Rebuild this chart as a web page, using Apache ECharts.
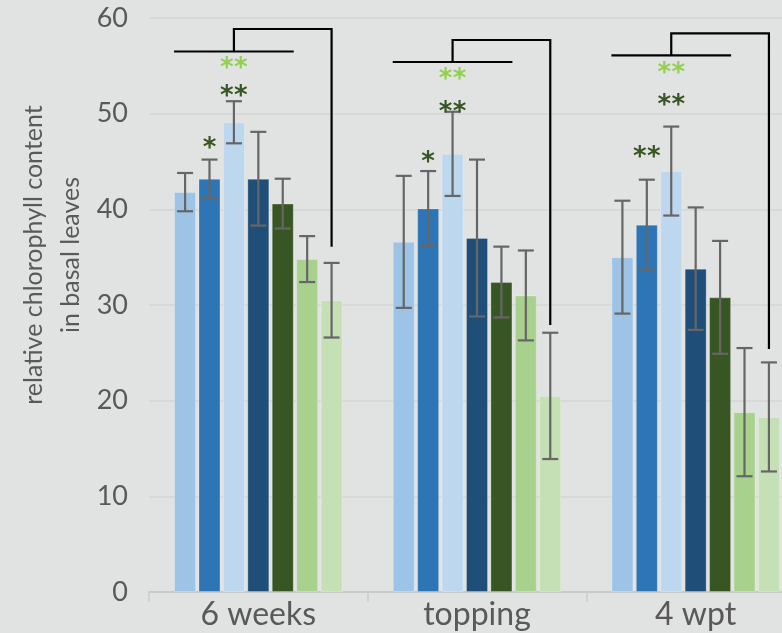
<!DOCTYPE html>
<html>
<head>
<meta charset="utf-8">
<script src="https://cdn.jsdelivr.net/npm/echarts@6/dist/echarts.min.js"></script>
<style>
html,body{margin:0;padding:0;background:#E1E2E2;overflow:hidden;}
#c{width:805px;height:633px;}
</style>
</head>
<body>
<div id="c"></div>
<script>
// ---- data ----
const categories = ['6 weeks', 'topping', '4 wpt'];
const seriesNames = ['line 1', 'line 2', 'line 3', 'line 4', 'line 5', 'line 6', 'line 7'];
const mean1 = [41.8, 36.6, 35.0];
const mean2 = [43.2, 40.1, 38.4];
const mean3 = [49.1, 45.8, 44.0];
const mean4 = [43.2, 37.0, 33.8];
const mean5 = [40.6, 32.4, 30.8];
const mean6 = [34.8, 31.0, 18.8];
const mean7 = [30.5, 20.5, 18.3];
const err1 = [2.0, 6.9, 5.9];
const err2 = [2.0, 3.9, 4.7];
const err3 = [2.2, 4.4, 4.65];
const err4 = [4.9, 8.2, 6.4];
const err5 = [2.6, 3.7, 5.9];
const err6 = [2.4, 4.7, 6.7];
const err7 = [3.9, 6.6, 5.7];
const yTicks = [0, 10, 20, 30, 40, 50, 60];
// significance marks: category index, bar index, value, text, kind
const starCat  = [0, 0, 0, 1, 1, 1, 2, 2, 2];
const starBar  = [1, 2, 2, 1, 2, 2, 1, 2, 2];
const starVal  = [47.0, 52.5, 55.4, 45.5, 50.8, 54.2, 46.1, 51.5, 54.9];
const starText = ['*', '**', '**', '*', '**', '**', '**', '**', '**'];
const starKind = ['dark', 'dark', 'light', 'dark', 'dark', 'light', 'dark', 'dark', 'light'];
// comparison brackets per category
const bracketLow = [56.5, 55.4, 56.1];
const bracketTop = [58.85, 57.7, 58.4];
const bracketEnd = [36.1, 27.9, 25.4];

const means = [mean1, mean2, mean3, mean4, mean5, mean6, mean7];
const errs = [err1, err2, err3, err4, err5, err6, err7];
const colors = ['#9DC3E6', '#2E75B6', '#BDD7EE', '#1F4E79', '#375623', '#A9D18E', '#C5E0B4'];
const starColors = { dark: '#375623', light: '#92D050' };

const BAR_W = 22;
const BAR_GAP = 0.11;
const PITCH = BAR_W * (1 + BAR_GAP);
const N = means.length;
function offsetOf(j) { return (j - (N - 1) / 2) * PITCH; }

const FONT = 'Lato';
const TXT = '#595959';

const barSeries = means.map((m, j) => ({
  name: seriesNames[j],
  type: 'bar',
  data: m,
  barWidth: BAR_W,
  barGap: (BAR_GAP * 100) + '%',
  itemStyle: { color: colors[j], borderColor: 'rgba(255,255,255,0.25)', borderWidth: 1 },
  silent: true,
  z: 2
}));

const errData = [];
means.forEach((m, j) => m.forEach((v, i) => errData.push([i, v - errs[j][i], v + errs[j][i], j])));

const errSeries = {
  type: 'custom',
  data: errData,
  encode: { x: 0, y: [1, 2] },
  z: 5,
  silent: true,
  renderItem: function (params, api) {
    const i = api.value(0), lo = api.value(1), hi = api.value(2), j = api.value(3);
    const pLo = api.coord([i, lo]);
    const pHi = api.coord([i, hi]);
    const x = pLo[0] + offsetOf(j);
    const cap = 8;
    const st = { stroke: '#666666', lineWidth: 2.2 };
    return {
      type: 'group',
      children: [
        { type: 'line', shape: { x1: x, y1: pLo[1], x2: x, y2: pHi[1] }, style: st },
        { type: 'line', shape: { x1: x - cap, y1: pLo[1], x2: x + cap, y2: pLo[1] }, style: st },
        { type: 'line', shape: { x1: x - cap, y1: pHi[1], x2: x + cap, y2: pHi[1] }, style: st }
      ]
    };
  }
};

const bracketData = categories.map((c, i) => [i, bracketLow[i], bracketTop[i], bracketEnd[i]]);
const bracketSeries = {
  type: 'custom',
  data: bracketData,
  encode: { x: 0, y: [1, 2, 3] },
  z: 6,
  silent: true,
  renderItem: function (params, api) {
    const i = api.value(0);
    const c = api.coord([i, 0])[0];
    const yLow = api.coord([i, api.value(1)])[1];
    const yTop = api.coord([i, api.value(2)])[1];
    const yEnd = api.coord([i, api.value(3)])[1];
    const xL = c + offsetOf(0) - BAR_W / 2;
    const xR = c + offsetOf(4) + BAR_W / 2;
    const xM = c + offsetOf(2);
    const x7 = c + offsetOf(6);
    const st = { stroke: '#000000', lineWidth: 2.2, fill: null };
    return {
      type: 'group',
      children: [
        { type: 'line', shape: { x1: xL, y1: yLow, x2: xR, y2: yLow }, style: st },
        { type: 'polyline', shape: { points: [[xM, yLow], [xM, yTop], [x7, yTop], [x7, yEnd]] }, style: st }
      ]
    };
  }
};

const starData = starCat.map((c, k) => [c, starVal[k], starBar[k], k]);
const starSeries = {
  type: 'custom',
  data: starData,
  encode: { x: 0, y: 1 },
  z: 7,
  silent: true,
  renderItem: function (params, api) {
    const i = api.value(0), v = api.value(1), j = api.value(2), k = api.value(3);
    const p = api.coord([i, v]);
    const x = p[0] + offsetOf(j);
    const txt = starText[k];
    const col = starColors[starKind[k]];
    const children = [];
    const n = txt.length;
    for (let s = 0; s < n; s++) {
      const dx = (s - (n - 1) / 2) * 14;
      children.push({
        type: 'text',
        x: x + dx, y: p[1] + 7,
        style: { text: '*', fill: col, font: 'bold 26px DejaVu Sans', textAlign: 'center', textVerticalAlign: 'middle' }
      });
    }
    return { type: 'group', children };
  }
};

const chart = echarts.init(document.getElementById('c'), null, { renderer: 'canvas' });
chart.setOption({
  backgroundColor: '#E1E2E2',
  animation: false,
  grid: { left: 149, right: 0, top: 18, bottom: 41, containLabel: false },
  xAxis: {
    type: 'category',
    data: categories,
    axisLine: { show: true, lineStyle: { color: '#C4C5C5', width: 1.5 } },
    axisTick: { show: true, length: 10, lineStyle: { color: '#CACBCB', width: 1.5 } },
    axisLabel: { color: TXT, fontFamily: FONT, fontSize: 32, margin: 7 },
    splitLine: { show: false }
  },
  yAxis: {
    type: 'value',
    min: yTicks[0], max: yTicks[yTicks.length - 1], interval: 10,
    axisLine: { show: false },
    axisTick: { show: false },
    axisLabel: { color: TXT, fontFamily: FONT, fontSize: 27, margin: 21 },
    splitLine: { lineStyle: { color: '#D3D4D4', width: 1.5 } }
  },
  graphic: [{
    type: 'text',
    x: 52, y: 255,
    rotation: Math.PI / 2,
    style: {
      text: 'relative chlorophyll content\nin basal leaves',
      fill: TXT, font: '25px Lato', textAlign: 'center', textVerticalAlign: 'middle', lineHeight: 37
    }
  }],
  series: [...barSeries, errSeries, bracketSeries, starSeries]
});
</script>
</body>
</html>
